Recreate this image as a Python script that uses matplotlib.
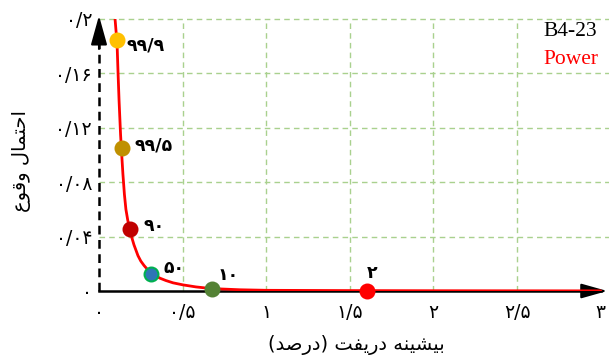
import matplotlib
matplotlib.use("Agg")
import matplotlib.pyplot as plt
from matplotlib import font_manager
from matplotlib.ft2font import FT2Font

# ---------------- data ----------------
curve_x = [0.096, 0.108, 0.114, 0.120, 0.129, 0.136, 0.143, 0.152, 0.161, 0.172,
           0.185, 0.197, 0.209, 0.221, 0.233, 0.250, 0.269, 0.290, 0.311, 0.337,
           0.365, 0.400, 0.443, 0.502, 0.580, 0.670, 0.843, 1.004, 1.500, 2.000, 3.000]
curve_y = [0.200, 0.182, 0.160, 0.140, 0.115, 0.100, 0.086, 0.071, 0.060, 0.052,
           0.045, 0.039, 0.034, 0.030, 0.026, 0.022, 0.0188, 0.0158, 0.0132, 0.0112,
           0.0094, 0.0077, 0.0060, 0.0045, 0.0030, 0.0018, 0.0009, 0.0005, 0.0003, 0.0002, 0.0001]

point_x = [0.106, 0.136, 0.185, 0.311, 0.674, 1.600]
point_y = [0.1846, 0.105, 0.0454, 0.0125, 0.0012, 0.0]
point_labels = ["۹۹/۹", "۹۹/۵", "۹۰", "۵۰", "۱۰", "۲"]
point_colors = ["#FFC000", "#BF9000", "#C00000", "#2E75B6", "#548235", "#FF0000"]
point_edges = ["#FFC000", "#BF9000", "#C00000", "#00B050", "#548235", "#FF0000"]
label_offsets = [(7, -4), (9, 2), (10, 2), (9, 4), (4, 10), (0, 13)]

xticks = [0, 0.5, 1, 1.5, 2, 2.5, 3]
xtick_labels = ["۰", "۰/۵", "۱", "۱/۵", "۲", "۲/۵", "۳"]
yticks = [0, 0.04, 0.08, 0.12, 0.16, 0.2]
ytick_labels = ["۰", "۰/۰۴", "۰/۰۸", "۰/۱۲", "۰/۱۶", "۰/۲"]

xlabel = "بیشینه دریفت (درصد)"
ylabel = "احتمال وقوع"
title_id = "B4-23"
title_model = "Power"

# ---------------- Arabic-script shaping (matplotlib 3.10 has no shaper) ----------------
dejavu_path = font_manager.findfont("DejaVu Sans")
charmap = FT2Font(dejavu_path).get_charmap()

# letter: (isolated, final, initial, medial); initial/medial None => right-joining only
FORMS = {
    "ا": (0xFE8D, 0xFE8E, None, None),
    "ب": (0xFE8F, 0xFE90, 0xFE91, 0xFE92),
    "ت": (0xFE95, 0xFE96, 0xFE97, 0xFE98),
    "ح": (0xFEA1, 0xFEA2, 0xFEA3, 0xFEA4),
    "د": (0xFEA9, 0xFEAA, None, None),
    "ر": (0xFEAD, 0xFEAE, None, None),
    "ش": (0xFEB5, 0xFEB6, 0xFEB7, 0xFEB8),
    "ص": (0xFEB9, 0xFEBA, 0xFEBB, 0xFEBC),
    "ع": (0xFEC9, 0xFECA, 0xFECB, 0xFECC),
    "ف": (0xFED1, 0xFED2, 0xFED3, 0xFED4),
    "ق": (0xFED5, 0xFED6, 0xFED7, 0xFED8),
    "ل": (0xFEDD, 0xFEDE, 0xFEDF, 0xFEE0),
    "م": (0xFEE1, 0xFEE2, 0xFEE3, 0xFEE4),
    "ن": (0xFEE5, 0xFEE6, 0xFEE7, 0xFEE8),
    "ه": (0xFEE9, 0xFEEA, 0xFEEB, 0xFEEC),
    "و": (0xFEED, 0xFEEE, None, None),
}
if all(c in charmap for c in (0xFBFC, 0xFBFD, 0xFBFE, 0xFBFF)):
    FORMS["ی"] = (0xFBFC, 0xFBFD, 0xFBFE, 0xFBFF)
else:
    FORMS["ی"] = (0xFEF1, 0xFEF2, 0xFEF3, 0xFEF4)

MIRROR = {"(": ")", ")": "("}


def shape_rtl(text):
    out = []
    n = len(text)
    for i, ch in enumerate(text):
        if ch not in FORMS:
            out.append(ch)
            continue
        iso, fin, ini, med = FORMS[ch]
        prev = text[i - 1] if i > 0 else None
        nxt = text[i + 1] if i < n - 1 else None
        join_prev = prev in FORMS and FORMS[prev][2] is not None
        join_next = ini is not None and nxt in FORMS
        if join_prev and join_next:
            code = med
        elif join_prev:
            code = fin
        elif join_next:
            code = ini
        else:
            code = iso
        out.append(chr(code))
    visual = [MIRROR.get(c, c) for c in reversed(out)]
    return "".join(visual)


# ---------------- figure ----------------
fig = plt.figure(figsize=(6.09, 3.59), dpi=100)
ax = fig.add_axes([99 / 609, 1 - 291 / 359, 1 - 99 / 609, 272 / 359])
ax.set_xlim(0, 3.05)
ax.set_ylim(0, 0.2)

grid_color = "#A9D18E"
for gx in xticks[1:-1]:
    ax.axvline(gx, color=grid_color, lw=1.0, ls=(0, (4, 3)), zorder=0)
for gy in yticks[1:]:
    ax.axhline(gy, color=grid_color, lw=1.0, ls=(0, (4, 3)), zorder=0, clip_on=False)

for side in ["top", "right", "left", "bottom"]:
    ax.spines[side].set_visible(False)

# axes lines with arrowheads
ax.plot([0, 0], [0, 0.185], color="black", lw=1.8, ls=(0, (3.5, 2.2)), zorder=2, clip_on=False)
ax.plot([0, 3.0], [0, 0], color="black", lw=1.8, zorder=2, clip_on=False)
ax.annotate("", xy=(0, 0.2025), xytext=(0, 0.178),
            arrowprops=dict(arrowstyle="-|>,head_length=1.8,head_width=0.5",
                            color="black", lw=1.5, shrinkA=0, shrinkB=0),
            annotation_clip=False)
ax.annotate("", xy=(3.04, 0), xytext=(2.88, 0),
            arrowprops=dict(arrowstyle="-|>,head_length=1.6,head_width=0.45",
                            color="black", lw=1.5, shrinkA=0, shrinkB=0),
            annotation_clip=False)

# fitted curve
ax.plot(curve_x, curve_y, color="#FF0000", lw=2.0, zorder=3, clip_on=True,
        solid_capstyle="round", solid_joinstyle="round")

# points and labels
for px, py, lab, fc, ec, off in zip(point_x, point_y, point_labels,
                                     point_colors, point_edges, label_offsets):
    ax.plot([px], [py], "o", ms=10, mfc=fc, mec=ec, mew=1.5, zorder=4, clip_on=False)
    ax.annotate(lab, xy=(px, py), xytext=off, textcoords="offset points",
                ha="left", va="center", fontsize=12.5, fontweight="bold",
                family="DejaVu Sans", color="black", zorder=5)

# ticks
ax.set_xticks(xticks)
ax.set_xticklabels(xtick_labels, family="DejaVu Sans", fontsize=13.5)
ax.set_yticks(yticks)
ax.set_yticklabels(ytick_labels, family="DejaVu Sans", fontsize=13.5)
ax.tick_params(axis="both", length=0)
ax.tick_params(axis="x", pad=9)
ax.tick_params(axis="y", pad=5)

# axis titles
fig.text(356 / 609, 1 - 345 / 359, shape_rtl(xlabel), ha="center", va="center",
         fontsize=14, family="DejaVu Sans")
fig.text(22 / 609, 1 - 161 / 359, shape_rtl(ylabel), ha="center", va="center",
         rotation=90, fontsize=14, family="DejaVu Sans")

# specimen / model tag
ax.text(543 / 609, 1 - 32 / 359, title_id, transform=fig.transFigure, ha="left",
        va="center", fontsize=15.5, family="Liberation Serif", color="black")
ax.text(543 / 609, 1 - 59 / 359, title_model, transform=fig.transFigure, ha="left",
        va="center", fontsize=15.5, family="Liberation Serif", color="#FF0000")

fig.savefig("out.png", dpi=100)
